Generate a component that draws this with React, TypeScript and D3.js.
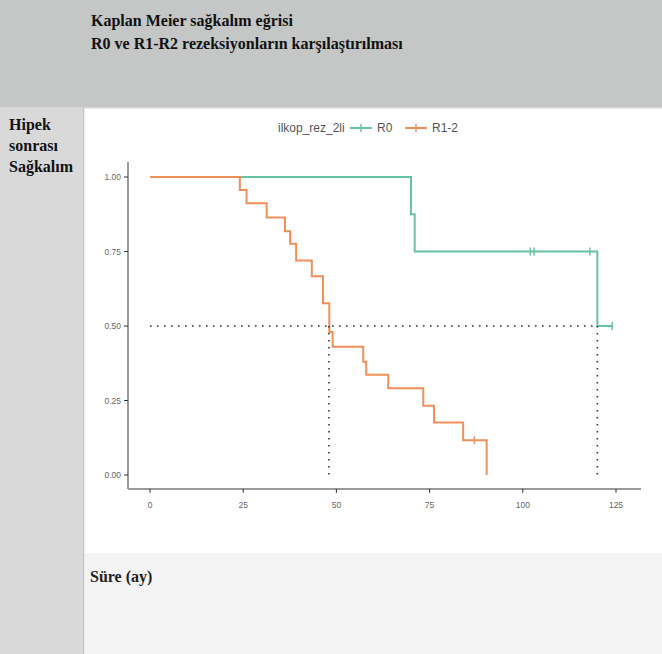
import React from "react";
import * as d3 from "d3";

const titleLines = ["Kaplan Meier sağkalım eğrisi", "R0 ve R1-R2 rezeksiyonların karşılaştırılması"];
const yLabelLines = ["Hipek", "sonrası", "Sağkalım"];
const xLabel = "Süre (ay)";
const legendTitle = "ilkop_rez_2li";
const groups = ["R0", "R1-2"];
const colors = ["#66C2A5", "#EE9058"];

// step data: [time, survival after time]
const r0Times = [0, 70, 71, 120];
const r0Surv = [1.0, 0.875, 0.75, 0.5];
const r0End = 124;
const r0Censor = [102, 103, 118, 124];

const r12Times = [0, 24.1, 25.9, 31.3, 36.2, 37.6, 39.2, 43.4, 46.4, 48.1, 49.0, 57.2, 58.0, 63.9, 73.3, 76.2, 84.0, 90.3];
const r12Surv = [1.0, 0.956, 0.912, 0.864, 0.818, 0.776, 0.72, 0.667, 0.576, 0.48, 0.43, 0.38, 0.336, 0.291, 0.232, 0.176, 0.117, 0.0];
const r12End = 90.3;
const r12Censor = [87];

const medians = [120, 48];
const xTicks = [0, 25, 50, 75, 100, 125];
const yTicks = [0, 0.25, 0.5, 0.75, 1.0];

const W = 662, H = 654;

function stepPath(times: number[], surv: number[], end: number, x: any, y: any) {
  const pts: [number, number][] = [];
  for (let i = 0; i < times.length; i++) {
    if (i > 0) pts.push([times[i], surv[i - 1]]);
    pts.push([times[i], surv[i]]);
  }
  pts.push([end, surv[surv.length - 1]]);
  return d3.line<[number, number]>().x(d => x(d[0])).y(d => y(d[1]))(pts) || "";
}

function survAt(times: number[], surv: number[], t: number) {
  let s = surv[0];
  for (let i = 0; i < times.length; i++) if (times[i] <= t) s = surv[i];
  return s;
}

export default function App() {
  const x = d3.scaleLinear().domain([0, 125]).range([150, 616]);
  const y = d3.scaleLinear().domain([0, 1]).range([475, 177]);
  const panelL = x(-5.9), panelR = x(131.7);
  const panelT = y(1.05), panelB = y(-0.05) - 1;
  const serif = "'Liberation Serif', 'DejaVu Serif', serif";
  const sans = "'Liberation Sans', Arial, sans-serif";
  const series = [
    { times: r0Times, surv: r0Surv, end: r0End, cens: r0Censor },
    { times: r12Times, surv: r12Surv, end: r12End, cens: r12Censor },
  ];
  const fmt = d3.format(".2f");
  const legY = 128;
  return (
    <svg width={W} height={H} style={{ position: "absolute", left: 0, top: 0 }}>
      {/* backgrounds */}
      <rect x={0} y={0} width={W} height={108} fill="#c5c7c6" />
      <rect x={0} y={108} width={84} height={H - 108} fill="#d9d9d9" />
      <rect x={83} y={108} width={1.5} height={H - 108} fill="#c4c4c4" />
      <rect x={84.5} y={108} width={W - 84.5} height={445} fill="#ffffff" />
      <rect x={84.5} y={553} width={W - 84.5} height={H - 553} fill="#f4f4f4" />
      <rect x={0} y={107} width={W} height={1.5} fill="#d6d6d6" />

      {titleLines.map((t, i) => (
        <text key={t} x={91} y={26 + i * 23} fontFamily={serif} fontWeight="bold" fontSize={16} fill="#111">{t}</text>
      ))}
      {yLabelLines.map((t, i) => (
        <text key={t} x={9} y={130 + i * 21} fontFamily={serif} fontWeight="bold" fontSize={16} fill="#111">{t}</text>
      ))}
      <text x={90} y={582} fontFamily={serif} fontWeight="bold" fontSize={16} fill="#222">{xLabel}</text>

      {/* legend */}
      <text x={278} y={legY + 4} fontFamily={sans} fontSize={12} fill="#555">{legendTitle}</text>
      {groups.map((g, i) => {
        const kx = i === 0 ? 350 : 405;
        return (
          <g key={g}>
            <line x1={kx} x2={kx + 22} y1={legY} y2={legY} stroke={colors[i]} strokeWidth={2} />
            <line x1={kx + 11} x2={kx + 11} y1={legY - 4} y2={legY + 4} stroke={colors[i]} strokeWidth={1.5} />
            <text x={kx + 27} y={legY + 4} fontFamily={sans} fontSize={12} fill="#555">{g}</text>
          </g>
        );
      })}

      {/* axes */}
      <line x1={panelL} x2={panelL} y1={panelT} y2={panelB} stroke="#9a9a9a" strokeWidth={2} />
      <line x1={panelL} x2={panelR} y1={panelB} y2={panelB} stroke="#9a9a9a" strokeWidth={2} />
      {yTicks.map(v => (
        <g key={v}>
          <line x1={panelL - 4} x2={panelL} y1={y(v)} y2={y(v)} stroke="#333" strokeWidth={1} />
          <text x={panelL - 7} y={y(v) + 3} textAnchor="end" fontFamily={sans} fontSize={8.5} fill="#666">{fmt(v)}</text>
        </g>
      ))}
      {xTicks.map(v => (
        <g key={v}>
          <line x1={x(v)} x2={x(v)} y1={panelB} y2={panelB + 4} stroke="#333" strokeWidth={1} />
          <text x={x(v)} y={panelB + 19} textAnchor="middle" fontFamily={sans} fontSize={8.5} fill="#666">{v}</text>
        </g>
      ))}

      {/* curves */}
      {series.map((s, i) => (
        <g key={i}>
          <path d={stepPath(s.times, s.surv, s.end, x, y)} fill="none" stroke={colors[i]} strokeWidth={2} />
          {s.cens.map(c => (
            <line key={c} x1={x(c)} x2={x(c)} y1={y(survAt(s.times, s.surv, c)) - 4} y2={y(survAt(s.times, s.surv, c)) + 4} stroke={colors[i]} strokeWidth={1.5} />
          ))}
        </g>
      ))}

      {/* median lines */}
      <line x1={x(0)} x2={x(d3.max(medians) as number)} y1={y(0.5)} y2={y(0.5)} stroke="#333" strokeWidth={1.6} strokeDasharray="1.6,5.4" />
      {medians.map(m => (
        <line key={m} x1={x(m)} x2={x(m)} y1={y(0.5)} y2={y(0)} stroke="#333" strokeWidth={1.6} strokeDasharray="1.6,5.4" />
      ))}
    </svg>
  );
}
